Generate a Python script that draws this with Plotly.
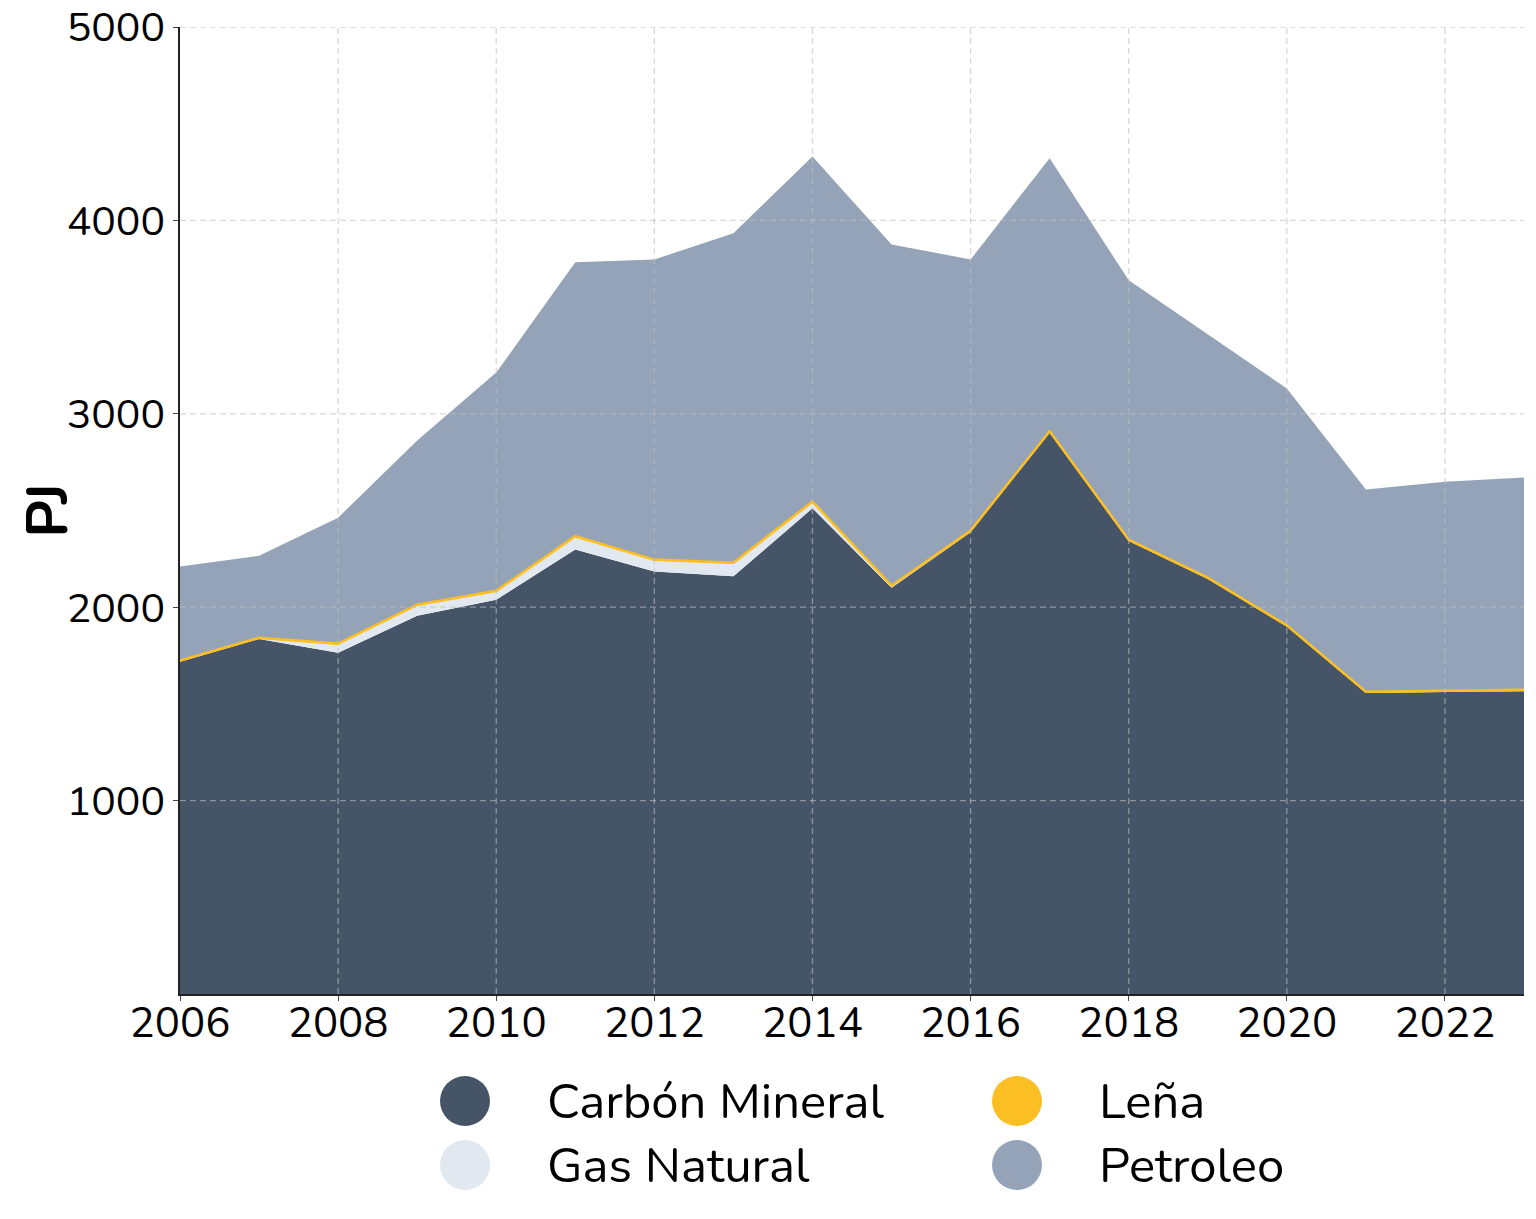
import plotly.graph_objects as go

years = list(range(2006, 2024))

carbon = [1718, 1836, 1765, 1956, 2039, 2298, 2184, 2160, 2512, 2100, 2388, 2902, 2342, 2146, 1900, 1556, 1561, 1566]
gas = [0, 0, 40, 50, 40, 62, 55, 63, 27, 4, 0, 0, 0, 0, 0, 0, 0, 0]
lena = [6, 6, 7, 7, 6, 7, 7, 7, 7, 7, 8, 8, 7, 7, 6, 7, 7, 7]
petroleo = [487, 424, 651, 849, 1128, 1416, 1552, 1703, 1785, 1765, 1402, 1411, 1341, 1257, 1225, 1045, 1081, 1097]

names = ["Carbón Mineral", "Gas Natural", "Leña", "Petroleo"]
colors = ["#465467", "#e2e8f0", "#fbbf24", "#94a3b8"]
series = [carbon, gas, lena, petroleo]

y_ticks = [1000, 2000, 3000, 4000, 5000]
x_ticks = list(range(2006, 2024, 2))

FONT = "Nunito, Noto Sans, sans-serif"

fig = go.Figure()
for name, color, vals in zip(names, colors, series):
    is_lena = name == "Leña"
    fig.add_trace(go.Scatter(
        x=years, y=vals, name=name, mode="lines",
        stackgroup="one",
        line=dict(color=color, width=2.5 if is_lena else 0),
        fillcolor=color,
        showlegend=False,
        hoverinfo="x+y+name",
    ))

# dashed grid drawn over the areas
grid_col = "rgba(190,190,190,0.6)"
shapes = []
for xv in x_ticks[1:]:
    shapes.append(dict(type="line", xref="x", yref="paper", x0=xv, x1=xv, y0=0, y1=1,
                       line=dict(color=grid_col, width=1.3, dash="6px,4px"), layer="above"))
for yv in y_ticks:
    shapes.append(dict(type="line", xref="paper", yref="y", x0=0, x1=1, y0=yv, y1=yv,
                       line=dict(color=grid_col, width=1.3, dash="6px,4px"), layer="above"))

# plot area on screen (page has an 8px body margin)
L, R, T, B = 180, 1524, 27, 994
OFF = 8
FW, FH = 1520, 1203
W, H = R - L, B - T


def px_x(p):
    return (p - L) / W


def px_y(p):
    return (B - p) / H


# legend made of circles and labels (2 x 2)
order = [(0, 465, 1101), (2, 1017, 1101), (1, 465, 1165), (3, 1017, 1165)]
annotations = []
for idx, cx, cy in order:
    r = 25
    shapes.append(dict(type="circle", xref="paper", yref="paper",
                       x0=px_x(cx - r), x1=px_x(cx + r), y0=px_y(cy + r), y1=px_y(cy - r),
                       fillcolor=colors[idx], line=dict(width=0)))
    annotations.append(dict(xref="paper", yref="paper", x=px_x(cx + 80), y=px_y(cy),
                            xanchor="left", yanchor="middle", showarrow=False,
                            text=names[idx], font=dict(family=FONT, size=49, color="#000")))

fig.update_layout(
    width=FW, height=FH,
    margin=dict(l=L - OFF, r=FW - (R - OFF), t=T - OFF, b=FH - (B - OFF), autoexpand=False),
    paper_bgcolor="white", plot_bgcolor="white",
    font=dict(family=FONT, color="#000"),
    shapes=shapes, annotations=annotations,
    showlegend=False,
)
fig.update_xaxes(
    range=[2006, 2023], tickvals=x_ticks, showgrid=False,
    showline=True, linecolor="#222", linewidth=1.5,
    ticks="outside", ticklen=5, tickcolor="#444",
    tickfont=dict(size=42, family=FONT), zeroline=False, automargin=False,
    ticklabeloverflow="allow", ticklabelstandoff=-14,
)
fig.update_yaxes(
    range=[0, 5000], tickvals=y_ticks, showgrid=False,
    showline=True, linecolor="#222", linewidth=1.5,
    ticks="outside", ticklen=5, tickcolor="#444",
    tickfont=dict(size=41, family=FONT), zeroline=False, automargin=False,
    ticklabeloverflow="allow",
    title=dict(text="<b>PJ</b>", font=dict(size=58, family=FONT), standoff=8),
)

fig.write_html("out.html")
